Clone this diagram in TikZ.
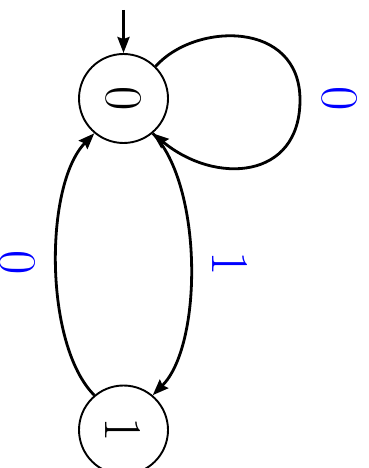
\documentclass[tikz,border=0pt]{standalone}
\usepackage{graphicx}
\usetikzlibrary{arrows.meta}
\newcommand{\rt}[1]{\rotatebox{-90}{#1}}
\begin{document}
\begin{tikzpicture}[x=1pt,y=-1pt,
  state/.style={circle,draw,line width=1.9pt,minimum size=89pt,inner sep=0pt,
    font=\fontsize{53}{60}\selectfont},
  lbl/.style={text=blue,font=\fontsize{53}{60}\selectfont,inner sep=0pt},
  edge/.style={line width=2.8pt,-{Stealth[length=16pt,width=12pt,inset=2pt]}}]
\useasboundingbox (0,0) rectangle (368,468);
\node[state] (n0) at (123.5,98.5) {\rt{0}};
\node[state] (n1) at (123.5,430) {\rt{1}};
\coordinate (init) at (123.5,10);
\draw[edge] (init) -- (n0);
\draw[edge] (n0.45) .. controls (195,22) and (300,20) .. (300,100)
   .. controls (300,180) and (215,185) .. (n0.-50);
\draw[edge] (n0.-50) .. controls (203,185) and (203,345) .. (n1.50);
\draw[edge] (n1.130) .. controls (44,345) and (44,185) .. (n0.-130);
\node[lbl] (l0) at (340,99) {\rt{0}};
\node[lbl] (l1) at (230,264) {\rt{1}};
\node[lbl] (l2) at (18,263) {\rt{0}};
\end{tikzpicture}
\end{document}
